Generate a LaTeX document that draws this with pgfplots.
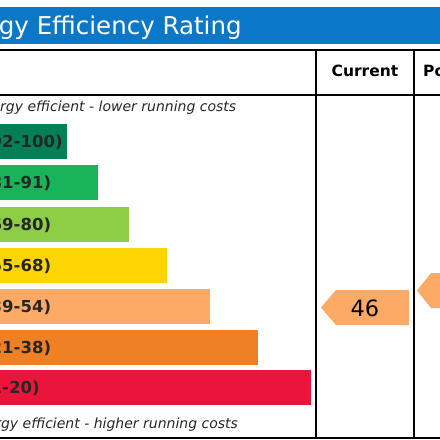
\documentclass[border=0pt]{standalone}
\usepackage{pgfplots}
\pgfplotsset{compat=1.18}
\usepackage{fontspec}
\setmainfont{DejaVu Sans}
\definecolor{epcblue}{HTML}{0A78C6}
\definecolor{epcA}{HTML}{008054}
\definecolor{epcB}{HTML}{19B459}
\definecolor{epcC}{HTML}{8DCE46}
\definecolor{epcD}{HTML}{FFD500}
\definecolor{epcE}{HTML}{FCAA65}
\definecolor{epcF}{HTML}{EF8023}
\definecolor{epcG}{HTML}{E9153B}
\begin{document}
\begin{tikzpicture}
\path[use as bounding box] (0,0) rectangle (440bp,440bp);
\clip (0,0) rectangle (440bp,440bp);
\begin{axis}[at={(0,0)}, anchor=south west, scale only axis, width=440bp, height=440bp,
  xmin=0, xmax=440, ymin=0, ymax=440, y dir=reverse, hide axis, clip=false]
% title band
\fill[epcblue] (axis cs:-100,7) rectangle (axis cs:540,43.5);
\node[anchor=base west, text=white, inner sep=0pt, font=\fontsize{24.5bp}{28bp}\selectfont] at (axis cs:-57,34) {Energy Efficiency Rating};
% bars
\addplot[xbar, bar width=35, bar shift=0pt, fill=epcA, draw=none] coordinates {(67,141.5)};
\addplot[xbar, bar width=35, bar shift=0pt, fill=epcB, draw=none] coordinates {(98,182.5)};
\addplot[xbar, bar width=35, bar shift=0pt, fill=epcC, draw=none] coordinates {(129,224)};
\addplot[xbar, bar width=35, bar shift=0pt, fill=epcD, draw=none] coordinates {(167,265.5)};
\addplot[xbar, bar width=35, bar shift=0pt, fill=epcE, draw=none] coordinates {(210,306.5)};
\addplot[xbar, bar width=35, bar shift=0pt, fill=epcF, draw=none] coordinates {(258,347.5)};
\addplot[xbar, bar width=35, bar shift=0pt, fill=epcG, draw=none] coordinates {(311,387.5)};
% band labels
\tikzset{lab/.style={anchor=base west, inner sep=0pt, text=black!85, font=\bfseries\fontsize{16.5bp}{18bp}\selectfont}}
\node[lab] at (axis cs:-17,147.5) {(92-100)};
\node[lab] at (axis cs:-17,188.5) {(81-91)};
\node[lab] at (axis cs:-17,230) {(69-80)};
\node[lab] at (axis cs:-17,271.5) {(55-68)};
\node[lab] at (axis cs:-17,312.5) {(39-54)};
\node[lab] at (axis cs:-17,353.5) {(21-38)};
\node[lab] at (axis cs:-17,393.5) {(1-20)};
% italic notes
\node[anchor=base west, inner sep=0pt, text=black!85, font=\itshape\fontsize{14bp}{16bp}\selectfont] at (axis cs:-62,111.5) {Very energy efficient - lower running costs};
\node[anchor=base west, inner sep=0pt, text=black!85, font=\itshape\fontsize{14bp}{16bp}\selectfont] at (axis cs:-60,428) {Not energy efficient - higher running costs};
% table lines
\draw[line width=2bp] (axis cs:-100,49.5) -- (axis cs:540,49.5);
\draw[line width=2bp] (axis cs:-100,94.5) -- (axis cs:540,94.5);
\draw[line width=2bp] (axis cs:-100,437.5) -- (axis cs:540,437.5);
\draw[line width=2bp] (axis cs:316.5,49.5) -- (axis cs:316.5,437.5);
\draw[line width=2bp] (axis cs:414,49.5) -- (axis cs:414,437.5);
% headers
\node[anchor=base, inner sep=0pt, font=\bfseries\fontsize{15.5bp}{18bp}\selectfont] at (axis cs:365,76.5) {Current};
\node[anchor=base west, inner sep=0pt, font=\bfseries\fontsize{15.5bp}{18bp}\selectfont] at (axis cs:423,76.5) {Potential};
% current rating arrow (46)
\addplot[fill=epcE, draw=none] coordinates {(321,307.5) (336,290) (409,290) (409,325) (336,325)} --cycle;
\node[inner sep=0pt, font=\fontsize{22.5bp}{24bp}\selectfont] at (axis cs:365,308) {46};
% potential rating arrow
\addplot[fill=epcE, draw=none] coordinates {(417,290.5) (431,273) (480,273) (480,308) (431,308)} --cycle;
\end{axis}
\end{tikzpicture}
\end{document}
